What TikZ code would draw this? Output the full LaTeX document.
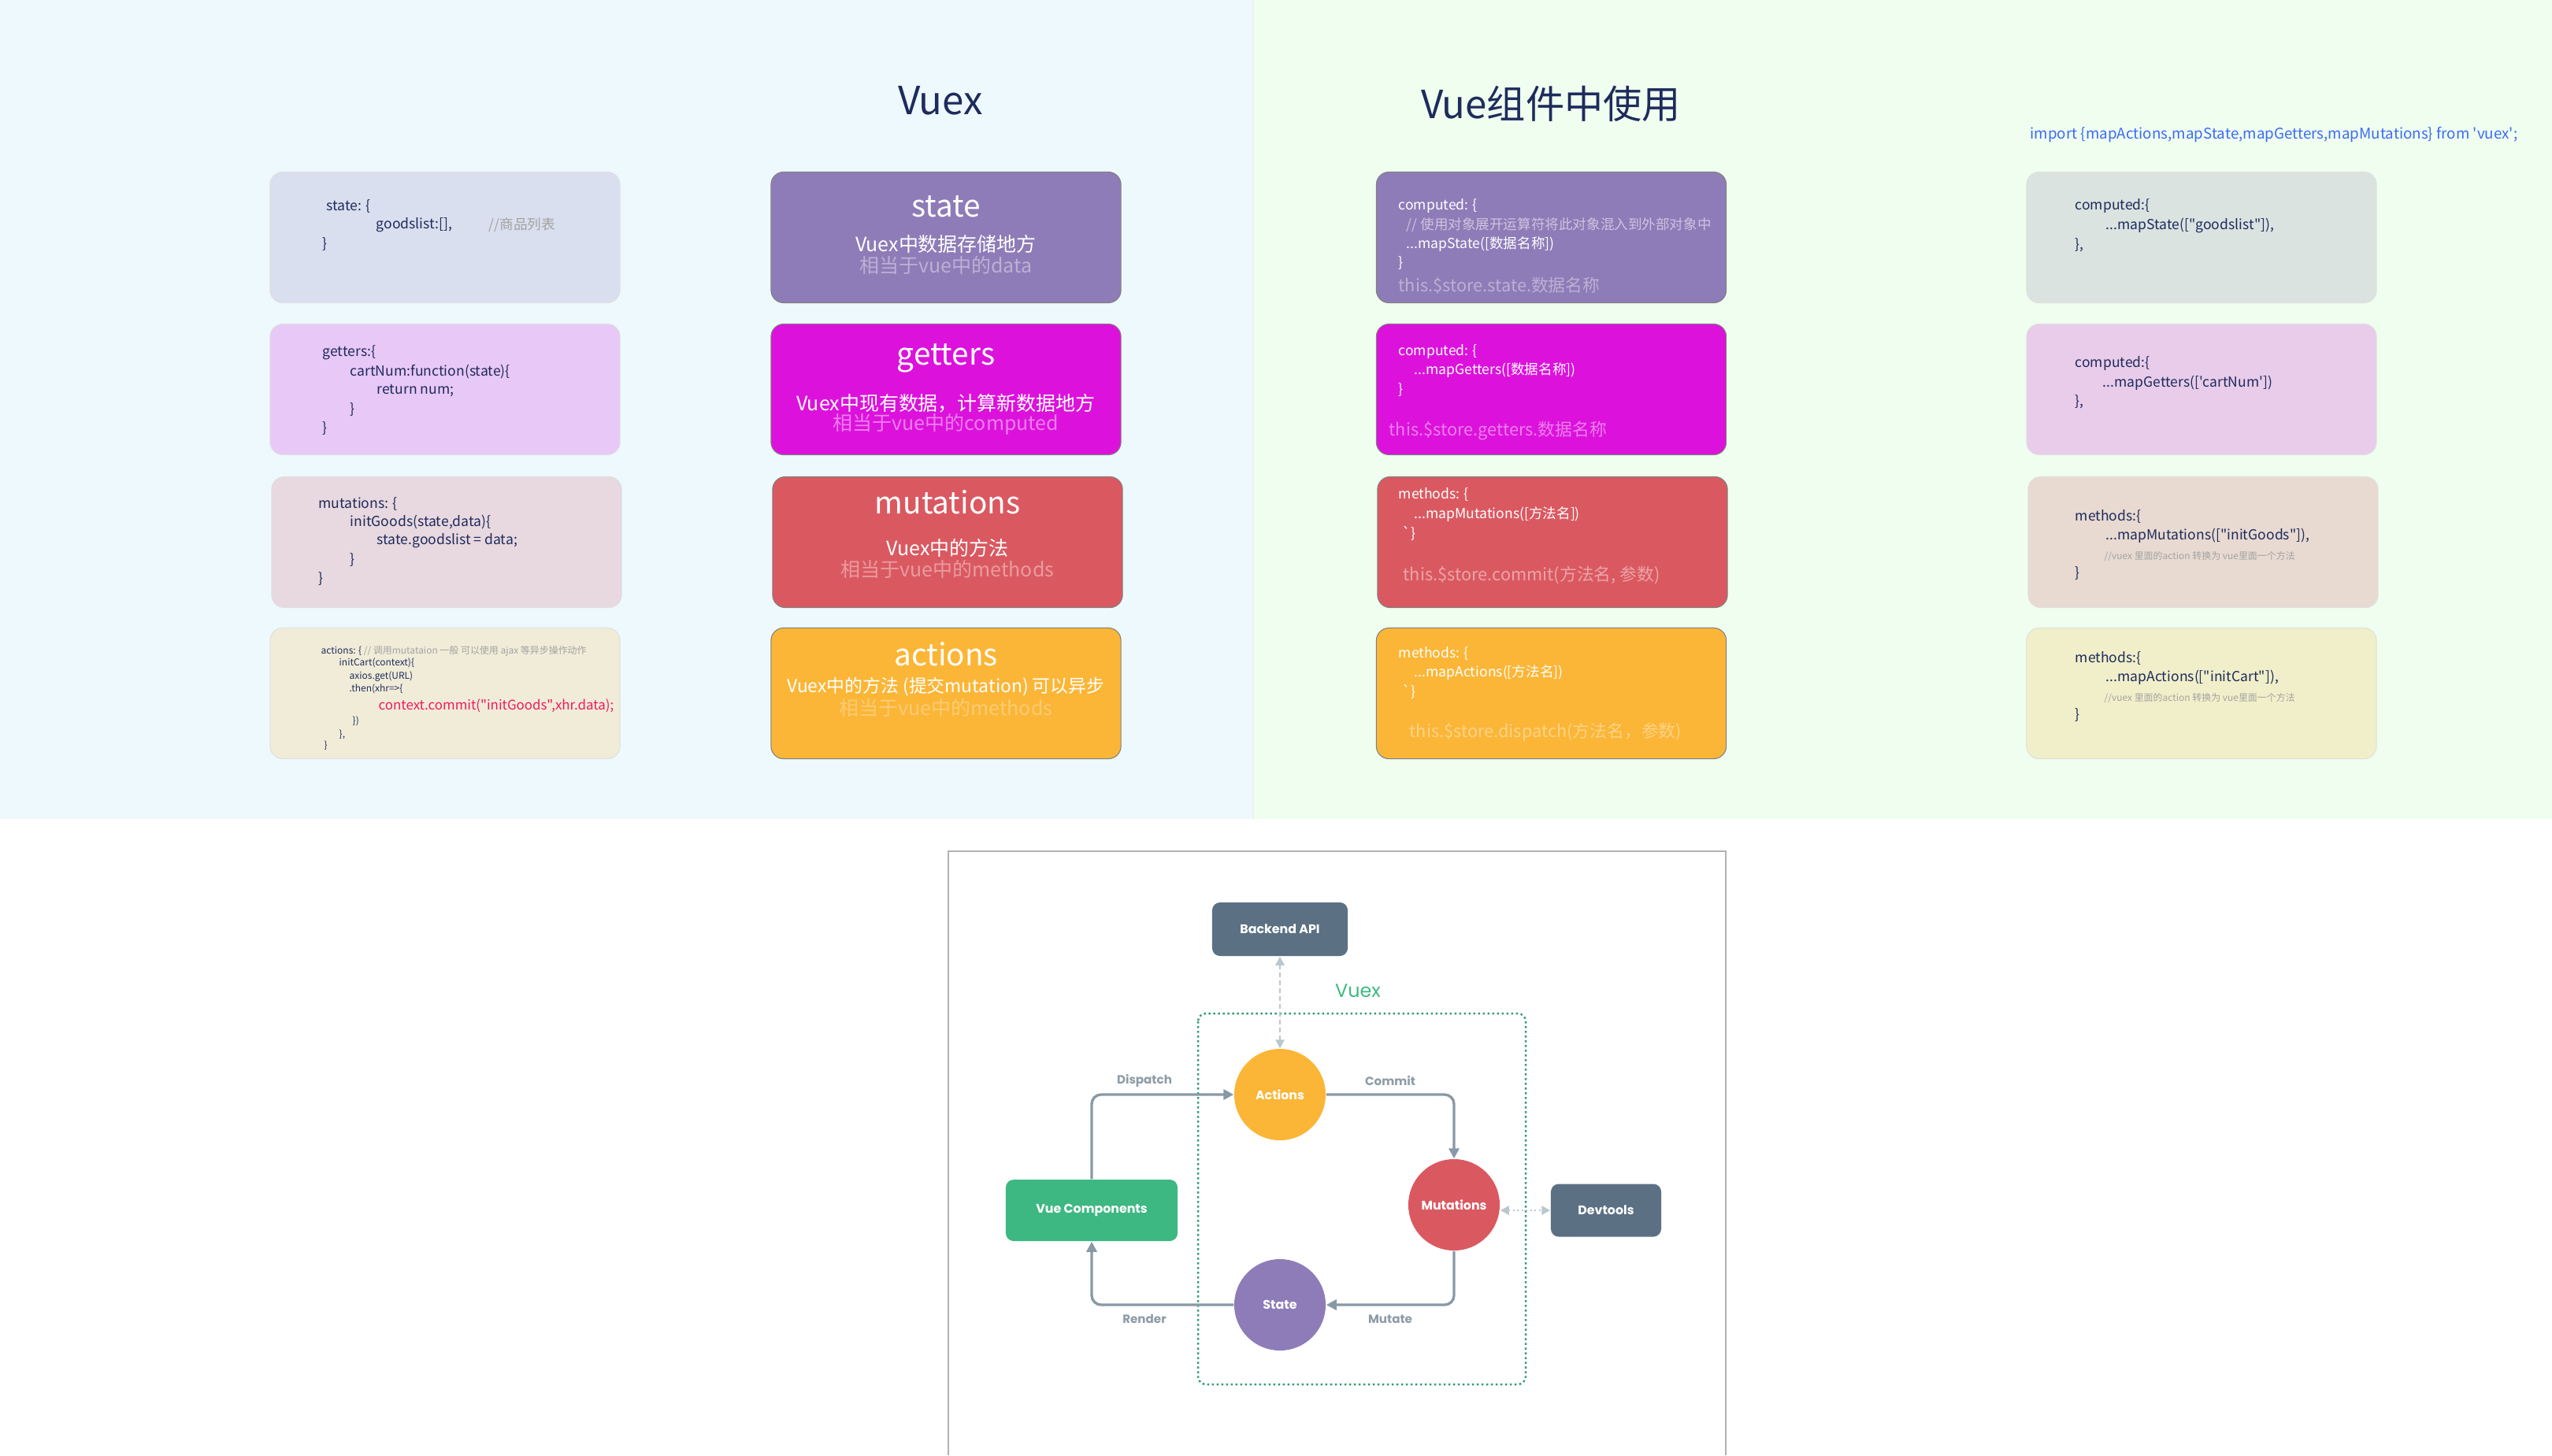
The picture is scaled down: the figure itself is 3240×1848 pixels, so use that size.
\documentclass[tikz,border=0pt]{standalone}
\usepackage{fontspec}
\setmainfont{Noto Sans CJK SC}[Ligatures=TeXOff]
\newfontfamily\pop{Poppins}
\usetikzlibrary{arrows.meta}
\newcommand\myfs[1]{\fontsize{#1}{#1}\selectfont}
\definecolor{bgL}{HTML}{EEF9FE}
\definecolor{bgR}{HTML}{EFFEEF}
\definecolor{navy}{HTML}{1E2B5C}
\definecolor{cmt}{HTML}{A3A3A3}
\definecolor{c1a}{HTML}{DADFEF}
\definecolor{c1b}{HTML}{E8C8F6}
\definecolor{c1c}{HTML}{E8D8DF}
\definecolor{c1d}{HTML}{F0ECD8}
\definecolor{c4a}{HTML}{DAE3E0}
\definecolor{c4b}{HTML}{E8CCEA}
\definecolor{c4c}{HTML}{E8DAD1}
\definecolor{c4d}{HTML}{F1EFC9}
\definecolor{stateC}{HTML}{8E7CB8}
\definecolor{gettersC}{HTML}{DC12DC}
\definecolor{mutC}{HTML}{DA5961}
\definecolor{actC}{HTML}{FBB637}
\definecolor{impblue}{HTML}{3D6BF5}
\definecolor{redcode}{HTML}{F0195C}
\definecolor{vgreen}{HTML}{3DB882}
\definecolor{slate}{HTML}{5B7083}
\definecolor{flowgray}{HTML}{8899A6}
\definecolor{lightflow}{HTML}{B8C8CF}
\definecolor{labgray}{HTML}{8C9CA6}
\begin{document}
\begin{tikzpicture}[x=0.01cm,y=-0.01cm,
  card/.style={rounded corners=0.16cm, minimum width=4.44cm, minimum height=1.66cm, inner sep=0, draw=black!12, line width=0.3pt},
  ccard/.style={card, draw=black!50},
  code/.style={anchor=west, inner sep=0, text=navy, font=\myfs{5}},
  ctitle/.style={inner sep=0, text=white, font=\myfs{11}},
  csub/.style={inner sep=0, text=white, font=\myfs{7.1}},
  lightcode/.style={code, text=white},
  bigcode/.style={anchor=west, inner sep=0, font=\myfs{6.2}},
  title/.style={inner sep=0, text=navy, font=\myfs{14}},
  flow/.style={draw=flowgray, line width=0.95pt, rounded corners=0.12cm, -{Triangle[length=0.13cm,width=0.13cm]}},
  circ/.style={circle, minimum size=1.16cm, inner sep=0, text=white, font=\pop\bfseries\myfs{4.5}},
  dbox/.style={rounded corners=0.1cm, inner sep=0, text=white, font=\pop\bfseries\myfs{4.5}},
  elab/.style={inner sep=0, text=labgray, font=\pop\bfseries\myfs{4.3}},
  ]
\useasboundingbox (0,0) rectangle (3240,1848);
\fill[bgL] (0,0) rectangle (1591,1040);
\fill[bgR] (1591,0) rectangle (3240,1040);
\draw[black!6, line width=0.4pt] (1591,0) -- (1591,1040);

% titles
\node[title] (t1) at (1194,128) {Vuex};
\node[title] (t2) at (1969,132) {Vue组件中使用};
\node[anchor=east, inner sep=0, text=impblue, font=\myfs{5.35}] (imp) at (3197,171) {import \{mapActions,mapState,mapGetters,mapMutations\} from 'vuex';};

% column 1
\node[card, fill=c1a] (a1) at (565,301.5) {};
\node[card, fill=c1b] (a2) at (565,494.5) {};
\node[card, fill=c1c] (a3) at (567,688.5) {};
\node[card, fill=c1d] (a4) at (565,880.5) {};
\node[code] (a1l1) at (414,262) {state: \{};
\node[code] (a1l2) at (477,286) {goodslist:[],};
\node[code, text=cmt] (a1l2c) at (620,286) {//商品列表};
\node[code] (a1l3) at (409,310) {\}};
\node[code] (a2l1) at (409,448) {getters:\{};
\node[code] (a2l2) at (444,472) {cartNum:function(state)\{};
\node[code] (a2l3) at (478,496) {return num;};
\node[code] (a2l4) at (444,520) {\}};
\node[code] (a2l5) at (409,544) {\}};
\node[code] (a3l1) at (404,640) {mutations: \{};
\node[code] (a3l2) at (444,663) {initGoods(state,data)\{};
\node[code] (a3l3) at (478,687) {state.goodslist = data;};
\node[code] (a3l4) at (444,711) {\}};
\node[code] (a3l5) at (404,735) {\}};
\node[code, font=\myfs{3.4}] (a4l1) at (407,827) {actions: \{ \textcolor{cmt}{// 调用mutataion 一般 可以使用 ajax 等异步操作动作}};
\node[code, font=\myfs{3.4}] (a4l2) at (430,842) {initCart(context)\{};
\node[code, font=\myfs{3.4}] (a4l3) at (443,859) {axios.get(URL)};
\node[code, font=\myfs{3.4}] (a4l4) at (443,875) {.then(xhr=>\{};
\node[code, font=\myfs{4.8}, text=redcode] (a4l5) at (480,896) {context.commit("initGoods",xhr.data);};
\node[code, font=\myfs{3.4}] (a4l6) at (447,916) {\})};
\node[code, font=\myfs{3.4}] (a4l7) at (430,933) {\},};
\node[code, font=\myfs{3.4}] (a4l8) at (411,947) {\}};

% column 2
\node[ccard, fill=stateC] (b1) at (1201,301.5) {};
\node[ccard, fill=gettersC] (b2) at (1201,494.5) {};
\node[ccard, fill=mutC] (b3) at (1203,688.5) {};
\node[ccard, fill=actC] (b4) at (1201,880.5) {};
\node[ctitle] (b1t) at (1201,262) {state};
\node[csub] (b1s) at (1201,310) {Vuex中数据存储地方};
\node[csub, text=white!40!stateC] (b1u) at (1201,337) {相当于vue中的data};
\node[ctitle] (b2t) at (1201,455) {getters};
\node[csub] (b2s) at (1201,512) {Vuex中现有数据，计算新数据地方};
\node[csub, text=white!45!gettersC] (b2u) at (1201,539) {相当于vue中的computed};
\node[ctitle] (b3t) at (1203,638) {mutations};
\node[csub] (b3s) at (1203,696) {Vuex中的方法};
\node[csub, text=white!40!mutC] (b3u) at (1203,723) {相当于vue中的methods};
\node[ctitle] (b4t) at (1201,831) {actions};
\node[csub, font=\myfs{6.5}] (b4s) at (1201,872) {Vuex中的方法 (提交mutation) 可以异步};
\node[csub, text=white!30!actC] (b4u) at (1201,899) {相当于vue中的methods};

% column 3
\node[ccard, fill=stateC] (c1) at (1969.5,301.5) {};
\node[ccard, fill=gettersC] (c2) at (1969.5,494.5) {};
\node[ccard, fill=mutC] (c3) at (1971,688.5) {};
\node[ccard, fill=actC] (c4) at (1969.5,880.5) {};
\node[lightcode] (c1l1) at (1775,262) {computed: \{};
\node[lightcode, text=white!55!stateC] (c1l2) at (1785,286) {// 使用对象展开运算符将此对象混入到外部对象中};
\node[lightcode] (c1l3) at (1785,310) {...mapState([数据名称])};
\node[lightcode] (c1l4) at (1775,334) {\}};
\node[bigcode, text=white!40!stateC] (c1l5) at (1775,363) {this.\$store.state.数据名称};
\node[lightcode] (c2l1) at (1775,447) {computed: \{};
\node[lightcode] (c2l2) at (1795,470) {...mapGetters([数据名称])};
\node[lightcode] (c2l3) at (1775,495) {\}};
\node[bigcode, text=white!45!gettersC] (c2l4) at (1763,547) {this.\$store.getters.数据名称};
\node[lightcode] (c3l1) at (1775,628) {methods: \{};
\node[lightcode] (c3l2) at (1795,653) {...mapMutations([方法名])};
\node[lightcode] (c3l3) at (1780,677) {`\}};
\node[bigcode, text=white!45!mutC] (c3l4) at (1781,730) {this.\$store.commit(方法名, 参数)};
\node[lightcode] (c4l1) at (1775,830) {methods: \{};
\node[lightcode] (c4l2) at (1795,854) {...mapActions([方法名])};
\node[lightcode] (c4l3) at (1780,878) {`\}};
\node[bigcode, text=white!40!actC] (c4l4) at (1789,930) {this.\$store.dispatch(方法名，参数)};

% column 4
\node[card, fill=c4a] (d1) at (2795,301.5) {};
\node[card, fill=c4b] (d2) at (2795,494.5) {};
\node[card, fill=c4c] (d3) at (2797,688.5) {};
\node[card, fill=c4d] (d4) at (2795,880.5) {};
\node[code] (d1l1) at (2634,262) {computed:\{};
\node[code] (d1l2) at (2673,286) {...mapState(["goodslist"]),};
\node[code] (d1l3) at (2634,311) {\},};
\node[code] (d2l1) at (2634,462) {computed:\{};
\node[code] (d2l2) at (2669,486) {...mapGetters(['cartNum'])};
\node[code] (d2l3) at (2634,510) {\},};
\node[code] (d3l1) at (2634,656) {methods:\{};
\node[code] (d3l2) at (2673,680) {...mapMutations(["initGoods"]),};
\node[code, text=cmt, font=\myfs{3.4}] (d3l3) at (2671,706) {//vuex 里面的action 转换为 vue里面一个方法};
\node[code] (d3l4) at (2634,728) {\}};
\node[code] (d4l1) at (2634,836) {methods:\{};
\node[code] (d4l2) at (2673,860) {...mapActions(["initCart"]),};
\node[code, text=cmt, font=\myfs{3.4}] (d4l3) at (2671,886) {//vuex 里面的action 转换为 vue里面一个方法};
\node[code] (d4l4) at (2634,908) {\}};

% bottom diagram
\draw[black!30, line width=0.45pt] (1204,1848) -- (1204,1081) -- (2191,1081) -- (2191,1848);
\draw[vgreen!85!black, line width=0.7pt, dash pattern=on 0.025cm off 0.035cm, rounded corners=0.1cm] (1521,1287) rectangle (1937,1758);
\node[inner sep=0, text=vgreen, font=\pop\myfs{6.8}] (vx) at (1724,1258) {Vuex};
\node[dbox, fill=slate, minimum width=1.72cm, minimum height=0.68cm] (api) at (1625,1180) {Backend API};
\node[circ, fill=actC] (act) at (1625,1390) {Actions};
\node[circ, fill=mutC] (mut) at (1846,1530) {Mutations};
\node[circ, fill=stateC] (st) at (1625,1657) {State};
\node[dbox, fill=vgreen, minimum width=2.18cm, minimum height=0.78cm] (vc) at (1386,1537) {Vue Components};
\node[dbox, fill=slate, minimum width=1.4cm, minimum height=0.67cm] (dev) at (2039,1537) {Devtools};
\draw[flow] (vc.north) |- (act.west);
\draw[flow] (act.east) -| (mut.north);
\draw[flow] (mut.south) |- (st.east);
\draw[flow] (st.west) -| (vc.south);
\draw[lightflow, line width=0.6pt, dash pattern=on 0.06cm off 0.04cm, {Triangle[length=0.11cm,width=0.11cm]}-{Triangle[length=0.11cm,width=0.11cm]}] (api.south) -- (act.north);
\draw[lightflow, line width=0.8pt, dash pattern=on 0.02cm off 0.035cm, {Triangle[length=0.11cm,width=0.11cm]}-{Triangle[length=0.11cm,width=0.11cm]}] (mut.east |- dev.west) -- (dev.west);
\node[elab] (ld) at (1453,1372) {Dispatch};
\node[elab] (lc) at (1765,1372) {Commit};
\node[elab] (lm) at (1765,1675) {Mutate};
\node[elab] (lr) at (1453,1675) {Render};
\end{tikzpicture}
\end{document}
